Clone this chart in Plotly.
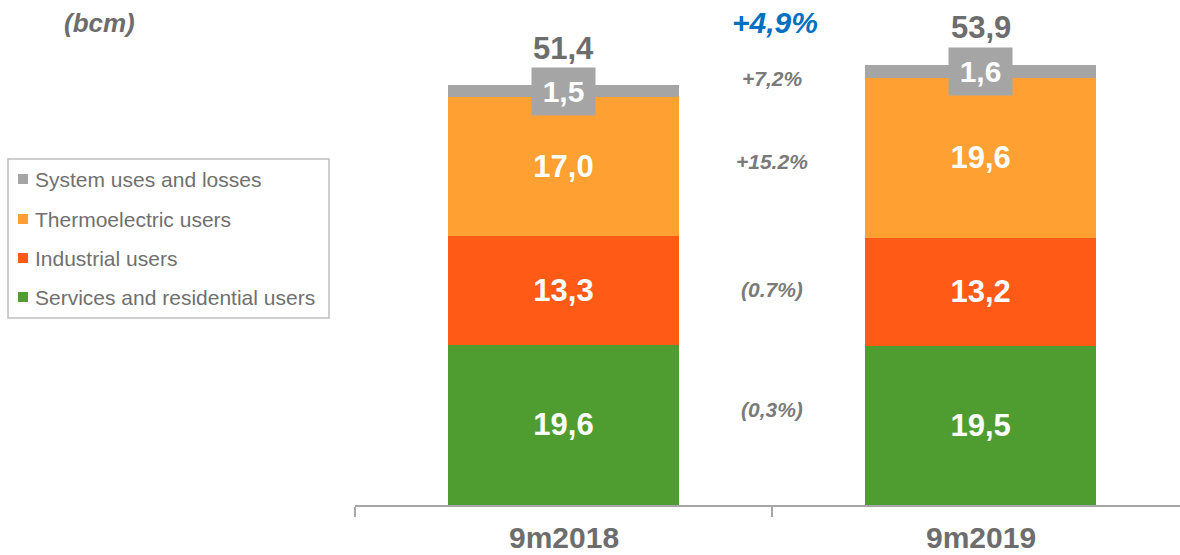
import plotly.graph_objects as go

categories = ["9m2018", "9m2019"]
series_names = ["Services and residential users", "Industrial users", "Thermoelectric users", "System uses and losses"]
services = [19.6, 19.5]
industrial = [13.3, 13.2]
thermo = [17.0, 19.6]
system = [1.5, 1.6]
totals = [51.4, 53.9]
growth_total = "+4,9%"
growth_labels = ["(0,3%)", "(0.7%)", "+15.2%", "+7,2%"]
unit_label = "(bcm)"

colors = ["#4F9D31", "#FF5A16", "#FFA032", "#A5A5A5"]
FONT = "Liberation Sans, Arial, sans-serif"
GRAY_TXT = "#6D6D6D"
LEG_TXT = "#707070"

# plot-area geometry (pixels)
L, R, T, B = 355, 1180, 5, 505

def px_x(p):
    return (p - L) / (R - L)

def px_y(p):
    return (B - p) / (B - T)

def fmt(v):
    return f"{v:.1f}".replace(".", ",")

xpos = [0, 1]
fig = go.Figure()
for name, vals, col in zip(series_names, [services, industrial, thermo, system], colors):
    is_sys = name.startswith("System")
    fig.add_trace(go.Bar(
        x=xpos, y=vals, name=name, marker=dict(color=col, line=dict(width=0)),
        width=0.554,
        text=None if is_sys else [f"<b>{fmt(v)}</b>" for v in vals],
        textposition="none" if is_sys else "inside",
        insidetextanchor="middle",
        textfont=dict(family=FONT, size=31, color="white"),
        showlegend=False,
        hoverinfo="skip",
    ))

annotations = []
shapes = []
for i, x in enumerate(xpos):
    base = services[i] + industrial[i] + thermo[i]
    annotations.append(dict(
        x=x, y=base + system[i] / 2, xref="x", yref="y",
        xanchor="center", yanchor="middle",
        text=f"<b>{fmt(system[i])}</b>", showarrow=False,
        font=dict(family=FONT, size=30, color="white"),
        bgcolor="#A5A5A5", width=61, height=45, align="center", valign="middle",
    ))
    annotations.append(dict(
        x=x, y=totals[i], xref="x", yref="y", yshift=37,
        xanchor="center", yanchor="middle",
        text=f"<b>{fmt(totals[i])}</b>", showarrow=False,
        font=dict(family=FONT, size=31, color=GRAY_TXT),
    ))
    annotations.append(dict(
        x=x, y=px_y(537), xref="x", yref="paper",
        xanchor="center", yanchor="middle",
        text=f"<b>{categories[i]}</b>", showarrow=False,
        font=dict(family=FONT, size=30, color=GRAY_TXT),
    ))

annotations.append(dict(
    x=0.507, y=59.05, xref="x", yref="y", xanchor="center", yanchor="middle",
    text=f"<b><i>{growth_total}</i></b>", showarrow=False,
    font=dict(family=FONT, size=30, color="#0070C0"),
))
for lab, yv in zip(growth_labels, [11.7, 26.4, 42.0, 52.2]):
    annotations.append(dict(
        x=0.5, y=yv, xref="x", yref="y", xanchor="center", yanchor="middle",
        text=f"<b><i>{lab}</i></b>", showarrow=False,
        font=dict(family=FONT, size=21, color="#7A7A7A"),
    ))
annotations.append(dict(
    x=px_x(99), y=px_y(23), xref="paper", yref="paper", xanchor="center", yanchor="middle",
    text=f"<b><i>{unit_label}</i></b>",
    showarrow=False, font=dict(family=FONT, size=26, color=GRAY_TXT),
))

# manual legend
shapes.append(dict(type="rect", xref="paper", yref="paper",
                   x0=px_x(8), x1=px_x(329), y0=px_y(159), y1=px_y(318),
                   line=dict(color="#BFBFBF", width=1.5), fillcolor="white"))
leg_rows = [179, 219, 258, 297]
for name, col, py in zip(series_names[::-1], colors[::-1], leg_rows):
    shapes.append(dict(type="rect", xref="paper", yref="paper",
                       x0=px_x(18), x1=px_x(28), y0=px_y(py - 5), y1=px_y(py + 5),
                       line=dict(width=0), fillcolor=col))
    annotations.append(dict(
        x=px_x(33), y=px_y(py), xref="paper", yref="paper", xanchor="left", yanchor="middle",
        text=name, showarrow=False, font=dict(family=FONT, size=21, color=LEG_TXT),
    ))

fig.update_layout(
    width=1180, height=555,
    margin=dict(l=L, r=1180 - R, t=T, b=555 - B),
    barmode="stack",
    plot_bgcolor="white", paper_bgcolor="white",
    showlegend=False,
    xaxis=dict(
        range=[-0.5, 1.478], showgrid=False, zeroline=False,
        showline=True, linecolor="#A6A6A6", linewidth=1.5,
        tickvals=[-0.5, 0.5, 1.5], ticktext=["", "", ""],
        ticks="outside", ticklen=10, tickcolor="#A6A6A6", tickwidth=1.5,
    ),
    yaxis=dict(range=[0, 61.2], visible=False, showgrid=False, zeroline=False),
    annotations=annotations,
    shapes=shapes,
)

fig.write_html("out.html", config={"displayModeBar": False},
               post_script="document.body.style.margin='0';document.body.style.overflow='hidden';")
